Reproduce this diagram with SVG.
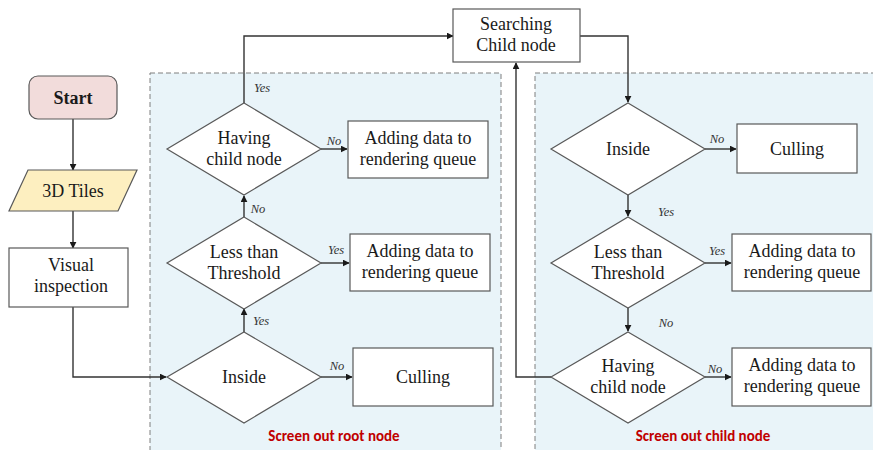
<svg xmlns="http://www.w3.org/2000/svg" width="873" height="450" viewBox="0 0 873 450">
<defs>
<marker id="arr" viewBox="0 0 10 10" refX="9" refY="5" markerWidth="7" markerHeight="7" markerUnits="userSpaceOnUse" orient="auto">
<path d="M0,0 L10,5 L0,10 z" fill="#1a1a1a"/>
</marker>
<style>
.region{fill:#e9f4f9;stroke:#7f7f7f;stroke-width:1;stroke-dasharray:5,3}
.box{fill:#ffffff;stroke:#595959;stroke-width:1.2}
.dia{fill:#ffffff;stroke:#595959;stroke-width:1.2}
.t{font-family:'Liberation Serif','Times New Roman','DejaVu Serif',serif;font-size:18px;fill:#1a1a1a;text-anchor:middle}
.lab{font-family:'Liberation Serif','Times New Roman','DejaVu Serif',serif;font-size:12.5px;font-style:italic;fill:#333;text-anchor:middle}
.red{font-family:Carlito,'Liberation Sans',Arial,sans-serif;font-size:15px;font-weight:bold;fill:#c00000;text-anchor:middle}
.c{fill:none;stroke:#333;stroke-width:1.4}
</style>
</defs>
<rect class="region" x="150" y="73" width="351" height="390"/>
<rect class="region" x="535" y="73" width="350" height="390"/>
<text class="red" x="334" y="441">Screen out root node</text>
<text class="red" x="703" y="441">Screen out child node</text>
<g id="connectors">
<path class="c" d="M73,119 V170" marker-end="url(#arr)"/>
<path class="c" d="M73,211 V248" marker-end="url(#arr)"/>
<path class="c" d="M73,307 V377 H166" marker-end="url(#arr)"/>
<path class="c" d="M244,332 V309" marker-end="url(#arr)"/>
<path class="c" d="M244,217 V196" marker-end="url(#arr)"/>
<path class="c" d="M244,103 V36 H453" marker-end="url(#arr)"/>
<path class="c" d="M321,149 H347" marker-end="url(#arr)"/>
<path class="c" d="M321,263 H349" marker-end="url(#arr)"/>
<path class="c" d="M321,377 H352" marker-end="url(#arr)"/>
<path class="c" d="M580,36 H628 V102" marker-end="url(#arr)"/>
<path class="c" d="M705,149 H736" marker-end="url(#arr)"/>
<path class="c" d="M628,195 V216" marker-end="url(#arr)"/>
<path class="c" d="M705,263 H731" marker-end="url(#arr)"/>
<path class="c" d="M628,308 V331" marker-end="url(#arr)"/>
<path class="c" d="M705,377 H731" marker-end="url(#arr)"/>
<path class="c" d="M551,377 H516 V63" marker-end="url(#arr)"/>
</g>
<g id="labels">
<text class="lab" x="262" y="92">Yes</text>
<text class="lab" x="334" y="145">No</text>
<text class="lab" x="258" y="213">No</text>
<text class="lab" x="336" y="254">Yes</text>
<text class="lab" x="261" y="325">Yes</text>
<text class="lab" x="337" y="370">No</text>
<text class="lab" x="717" y="143">No</text>
<text class="lab" x="666" y="216">Yes</text>
<text class="lab" x="717" y="255">Yes</text>
<text class="lab" x="666" y="327">No</text>
<text class="lab" x="715" y="373">No</text>
</g>
<g id="start">
<rect x="29" y="76" width="88" height="43" rx="9" fill="#f2dcdb" stroke="#595959" stroke-width="1.2"/>
<text class="t" x="73" y="104" font-weight="bold" font-size="17">Start</text>
</g>
<g id="tiles">
<polygon points="28,170 137,170 118,211 9,211" fill="#fdefc0" stroke="#595959" stroke-width="1.2"/>
<text class="t" x="73" y="197">3D Tiles</text>
</g>
<g id="visual">
<rect class="box" x="9" y="248" width="119" height="59"/>
<text class="t" x="71" y="271">Visual</text>
<text class="t" x="71" y="292">inspection</text>
</g>
<g id="search">
<rect class="box" x="453" y="9" width="127" height="53"/>
<text class="t" x="516" y="30">Searching</text>
<text class="t" x="516" y="51">Child node</text>
</g>
<g id="root-having">
<polygon class="dia" points="244,103 321,149 244,195 167,149"/>
<text class="t" x="244" y="144">Having</text>
<text class="t" x="244" y="165">child node</text>
</g>
<g id="root-less">
<polygon class="dia" points="244,217 321,263 244,309 167,263"/>
<text class="t" x="244" y="258">Less than</text>
<text class="t" x="244" y="279">Threshold</text>
</g>
<g id="root-inside">
<polygon class="dia" points="244,332 321,377 244,423 167,377"/>
<text class="t" x="244" y="383">Inside</text>
</g>
<g id="root-add1">
<rect class="box" x="348" y="121" width="140" height="57"/>
<text class="t" x="418" y="144">Adding data to</text>
<text class="t" x="418" y="165">rendering queue</text>
</g>
<g id="root-add2">
<rect class="box" x="350" y="234" width="140" height="57"/>
<text class="t" x="420" y="257">Adding data to</text>
<text class="t" x="420" y="278">rendering queue</text>
</g>
<g id="root-cull">
<rect class="box" x="353" y="348" width="140" height="58"/>
<text class="t" x="423" y="383">Culling</text>
</g>
<g id="child-inside">
<polygon class="dia" points="628,103 705,149 628,195 551,149"/>
<text class="t" x="628" y="155">Inside</text>
</g>
<g id="child-less">
<polygon class="dia" points="628,217 705,263 628,308 551,263"/>
<text class="t" x="628" y="258">Less than</text>
<text class="t" x="628" y="279">Threshold</text>
</g>
<g id="child-having">
<polygon class="dia" points="628,332 705,377 628,423 551,377"/>
<text class="t" x="628" y="372">Having</text>
<text class="t" x="628" y="393">child node</text>
</g>
<g id="child-cull">
<rect class="box" x="737" y="124" width="120" height="49"/>
<text class="t" x="797" y="155">Culling</text>
</g>
<g id="child-add1">
<rect class="box" x="732" y="234" width="139" height="57"/>
<text class="t" x="802" y="257">Adding data to</text>
<text class="t" x="802" y="278">rendering queue</text>
</g>
<g id="child-add2">
<rect class="box" x="732" y="348" width="139" height="58"/>
<text class="t" x="802" y="371">Adding data to</text>
<text class="t" x="802" y="392">rendering queue</text>
</g>
</svg>
